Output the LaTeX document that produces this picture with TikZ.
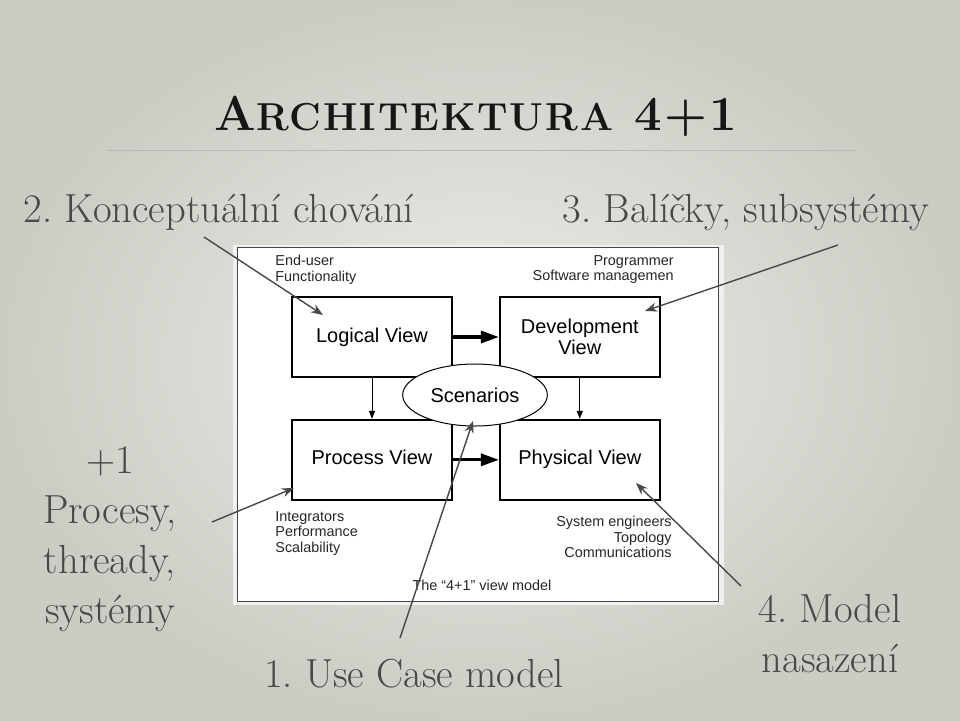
\documentclass[tikz,border=0pt]{standalone}
\usepackage{fontspec}
\setmainfont{Latin Modern Roman}
\newfontfamily\diagfont{Liberation Sans}
\newfontfamily\titlefont[LetterSpace=5]{Latin Modern Roman}
\usetikzlibrary{positioning, arrows.meta, shapes.geometric}
\frenchspacing

\definecolor{bgin}{RGB}{238,238,233}
\definecolor{bgout}{RGB}{203,204,196}
\definecolor{slidegray}{RGB}{72,72,72}
\definecolor{titleblack}{RGB}{22,22,22}

\begin{document}
\begin{tikzpicture}[
    x=0.5pt, y=-0.5pt,
    view/.style={draw, line width=0.9pt, fill=white, minimum width=80pt, minimum height=40pt, align=center, inner sep=2pt, font=\diagfont\fontsize{10}{10.5}\selectfont},
    oneline/.style={text height=7.3pt, text depth=2.2pt},
    note/.style={inner sep=0pt, text=black!85, font=\diagfont\fontsize{7.2}{7.7}\selectfont},
    slide/.style={inner sep=0pt, text=slidegray, align=center, font=\fontsize{20.3}{25}\selectfont},
    flow/.style={-{Triangle[length=9pt,width=6pt]}, line width=1.6pt},
    down/.style={-{Triangle[length=4pt,width=3pt]}, line width=0.5pt},
    pointer/.style={-{Stealth[length=6pt,width=4.5pt]}, line width=0.7pt, draw=slidegray}
]
    \useasboundingbox (0,0) rectangle (960,720);
    \shade[inner color=bgin, outer color=bgout] (0,0) rectangle (960,720);

    % Slide heading
    \node[inner sep=0pt, anchor=base, text=titleblack] (title) at (476,130)
        {\titlefont\bfseries\fontsize{24.5}{28}\selectfont A\fontsize{19.5}{28}\selectfont RCHITEKTURA\fontsize{24.5}{28}\selectfont{} 4+1};
    \draw[gray!55, line width=0.4pt] (107,150) -- (855,150);

    % The 4+1 picture
    \fill[gray!12] (233,245) rectangle (724,605);
    \draw[draw=gray!55!black, fill=white, line width=0.5pt] (237,247) rectangle (718,601);

    \node[view, oneline] (logical) at (372,337) {Logical View};
    \node[view] (development) [right=23pt of logical] {Development\\View};
    \node[view, oneline] (process) [below=20.5pt of logical] {Process View};
    \node[view, oneline] (physical) [below=20.5pt of development] {Physical View};

    \draw[flow] (logical) -- (development);
    \draw[flow] (process) -- (physical);
    \draw[down] (logical) -- (process);
    \draw[down] (development) -- (physical);

    \node[draw, ellipse, fill=white, line width=0.5pt, minimum width=72pt, minimum height=31pt, font=\diagfont\fontsize{10}{11}\selectfont] (scenarios) at (475,395) {Scenarios};

    \node[note, anchor=north west, align=left] (enduser) at (275,255) {End-user\\Functionality};
    \node[note, anchor=north east, align=right] (programmer) at (674,255) {Programmer\\Software managemen};
    \node[note, anchor=north west, align=left] (integrators) at (275,511) {Integrators\\Performance\\Scalability};
    \node[note, anchor=north east, align=right] (engineers) at (672,516) {System engineers\\Topology\\Communications};
    \node[note, anchor=base] (caption) at (482,590) {The “4+1” view model};

    % Slide texts around the picture
    \node[slide, anchor=base] (conceptual) at (219,222) {2. Konceptuální chování};
    \node[slide, anchor=base] (packages) at (746,222) {3. Balíčky, subsystémy};
    \node[slide, anchor=north] (processes) at (110,446) {+1\\Procesy,\\thready,\\systémy};
    \node[slide, anchor=base] (usecase) at (414,687) {1. Use Case model};
    \node[slide, anchor=north] (deployment) at (830,594) {4. Model\\nasazení};

    % Pointers from the slide texts to the views
    \coordinate (conceptual-from) at (204,237);
    \coordinate (conceptual-to) at (323,315);
    \coordinate (packages-from) at (838,245);
    \coordinate (packages-to) at (645,311);
    \coordinate (processes-from) at (212,522);
    \coordinate (processes-to) at (294,488);
    \coordinate (usecase-from) at (400,638);
    \coordinate (usecase-to) at (473,421);
    \coordinate (deployment-from) at (741,586);
    \coordinate (deployment-to) at (636,483);

    \draw[pointer] (conceptual-from) -- (conceptual-to);
    \draw[pointer] (packages-from) -- (packages-to);
    \draw[pointer] (processes-from) -- (processes-to);
    \draw[pointer] (usecase-from) -- (usecase-to);
    \draw[pointer] (deployment-from) -- (deployment-to);
\end{tikzpicture}
\end{document}
